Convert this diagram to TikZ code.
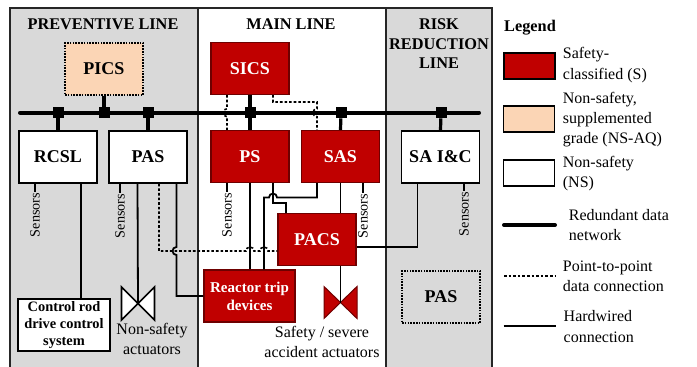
\documentclass[tikz,border=0pt]{standalone}
\usepackage{fontspec}
\setmainfont{Liberation Serif}
\usepackage{xcolor}
\usetikzlibrary{calc}

\definecolor{safetyred}{HTML}{C00000}
\definecolor{darkred}{HTML}{6E0000}
\definecolor{nsaq}{HTML}{FBD5B5}
\definecolor{linegray}{HTML}{D9D9D9}

\tikzset{
  box/.style={draw=black,line width=1.5pt,inner sep=0pt,align=center,minimum width=78pt,minimum height=52pt},
  safebox/.style={box,draw=darkred,line width=1.2pt,fill=safetyred,text=white,font=\fontsize{18}{20}\selectfont\bfseries},
  nsbox/.style={box,fill=white,font=\fontsize{18}{20}\selectfont\bfseries},
  dotbox/.style={box,line width=1.5pt,dash pattern=on 1.6pt off 1.2pt,font=\fontsize{18}{20}\selectfont\bfseries},
  title/.style={align=center,inner sep=0pt,font=\fontsize{16.3}{19.5}\selectfont\bfseries},
  body/.style={align=center,inner sep=0pt,font=\fontsize{16}{20}\selectfont},
  legtext/.style={align=left,anchor=west,inner sep=0pt,font=\fontsize{16}{20.3}\selectfont},
  legbox/.style={draw=black,line width=2pt,inner sep=0pt,minimum width=51pt,minimum height=26pt},
  sens/.style={rotate=90,inner sep=1pt,font=\fontsize{14.2}{16}\selectfont},
  junction/.style={fill=black,inner sep=0pt,minimum size=11pt},
  bus/.style={line width=4pt,line cap=round},
  stub/.style={line width=3.2pt},
  wire/.style={line width=1.8pt},
  ptp/.style={line width=1.6pt,dash pattern=on 2.6pt off 2pt},
  valve/.style={line width=1.6pt,line join=miter}
}

\begin{document}
\begin{tikzpicture}[x=1pt,y=-1pt]
  \useasboundingbox (0,0) rectangle (697,367);

  % Line panels
  \fill[linegray] (10,8) rectangle (198,367);
  \fill[linegray] (386,8) rectangle (492,367);
  \draw[line width=1.5pt,black!85] (10,367) -- (10,8) -- (492,8) -- (492,367);
  \draw[line width=1.5pt,black!85] (198,8) -- (198,367);
  \draw[line width=1.5pt,black!85] (386,8) -- (386,367);

  % Panel titles
  \node[title] (tprev) at (103,24) {PREVENTIVE LINE};
  \node[title] (tmain) at (291,24) {MAIN LINE};
  \node[title] (trisk) at (439,44) {RISK\\REDUCTION\\LINE};

  % Bus
  \coordinate (busl) at (20,112.7);
  \coordinate (busr) at (479,112.7);
  \draw[bus] (busl) -- (busr);

  % Systems
  \node[dotbox,fill=nsaq] (pics) at (104,69) {PICS};
  \node[nsbox] (rcsl) at (58,157) {RCSL};
  \node[nsbox] (pas) at (148,157) {PAS};
  \node[safebox] (sics) at (250,68.5) {SICS};
  \node[safebox] (ps) at (250,156.5) {PS};
  \node[safebox] (sas) at (340.5,156.5) {SAS};
  \node[nsbox] (saic) at (440.5,157) {SA I\&C};
  \node[safebox] (pacs) at (317,239.5) {PACS};
  \node[safebox,minimum width=91pt,font=\fontsize{15}{18}\selectfont\bfseries] (rtd) at (249.5,296) {Reactor trip\\devices};
  \node[nsbox,minimum width=92pt,font=\fontsize{14.4}{17}\selectfont\bfseries] (crd) at (64,325) {Control rod\\drive control\\system};
  \node[dotbox] (pasr) at (441,297) {PAS};

  % Bus junctions
  \node[junction] (j1) at (58,112.7) {};
  \node[junction] (j2) at (104,112.7) {};
  \node[junction] (j3) at (148,112.7) {};
  \node[junction] (j4) at (250,112.7) {};
  \node[junction] (j5) at (341,112.7) {};
  \node[junction] (j6) at (441,112.7) {};

  % Bus stubs
  \draw[stub] (pics.south) -- (j2);
  \draw[stub] (rcsl.north) -- (j1);
  \draw[stub] (pas.north) -- (j3);
  \draw[stub] (sics.south) -- (j4);
  \draw[stub] (ps.north) -- (j4);
  \draw[stub] (sas.north) -- (j5);
  \draw[stub] (saic.north) -- (j6);

  % Sensors
  \node[sens] (s1) at (35,215) {Sensors};
  \node[sens] (s2) at (120,216) {Sensors};
  \node[sens] (s3) at (227,215) {Sensors};
  \node[sens] (s4) at (363,216) {Sensors};
  \node[sens] (s5) at (464,214) {Sensors};
  \draw[wire] ([xshift=-23pt]rcsl.south) -- (s1.east);
  \draw[wire] ([xshift=-28pt]pas.south) -- (s2.east);
  \draw[wire] ([xshift=-23pt]ps.south) -- (s3.east);
  \draw[wire] ([xshift=22.5pt]sas.south) -- (s4.east);
  \draw[wire] ([xshift=23.5pt]saic.south) -- (s5.east);

  % Valves
  \coordinate (vns) at (138,303.5);
  \coordinate (vs) at (340.5,302.5);
  \draw[valve,fill=white] ($(vns)+(-16.5,-16.5)$) -- ($(vns)+(16.5,16.5)$) -- ($(vns)+(16.5,-16.5)$) -- ($(vns)+(-16.5,16.5)$) -- cycle;
  \draw[valve,line width=1pt,draw=darkred,fill=safetyred] ($(vs)+(-16.5,-16)$) -- ($(vs)+(16.5,16)$) -- ($(vs)+(16.5,-16)$) -- ($(vs)+(-16.5,16)$) -- cycle;
  \node[body] (lns) at (152,339) {Non-safety\\actuators};
  \node[body] (ls) at (322,341.5) {Safety / severe\\accident actuators};

  % Hardwired connections
  \draw[wire] ([xshift=23pt]rcsl.south) -- (crd.north -| 81,0);
  \draw[wire] ([xshift=-10.5pt]pas.south) -- (vns);
  \draw[wire] ([xshift=28.5pt]pas.south) -- (176.5,247) arc (90:270:4pt) -- (176.5,296) -- (rtd.west |- 0,296);
  \draw[wire] (ps.south) -- (rtd.north -| ps.south);
  \draw[wire] ([xshift=23pt]ps.south) -- (273,203) -- (286,203) -- (pacs.north -| 286,0);
  \draw[wire] ([xshift=-23.5pt]sas.south) -- (317,197.5) -- (277,197.5) arc (0:180:4pt) -- (264,197.5) -- (rtd.north -| 264,0);
  \draw[wire] (sas.south) -- (pacs.north -| sas.south);
  \draw[wire] (pacs.south -| vs) -- (vs);
  \draw[wire] (pacs.east |- 0,247) -- (417.5,247) -- ([xshift=-23pt]saic.south);

  % Point-to-point connections
  \draw[ptp] ([xshift=-23pt]sics.south) -- (227,108.7) arc (90:270:4pt) -- ([xshift=-23pt]ps.north);
  \draw[ptp] ([xshift=23pt]sics.south) -- (273,102) -- (317,102) -- (317,108.7) arc (90:270:4pt) -- ([xshift=-23.5pt]sas.north);
  \draw[ptp] ([xshift=11pt]pas.south) -- (159,251) -- (246,251) arc (180:0:4pt) -- (260,251) arc (180:0:4pt) -- ([yshift=-11.5pt]pacs.west);

  % Legend
  \node[title,anchor=west] (lt) at (504,28) {Legend};
  \node[legbox,fill=safetyred] (l1) at (529,65.5) {};
  \node[legbox,fill=nsaq,line width=1.6pt] (l2) at (529,118.7) {};
  \node[legbox,fill=white,line width=1.6pt] (l3) at (529,173) {};
  \node[legtext] (t1) at (562.7,65) {Safety-\\classified (S)};
  \node[legtext] (t2) at (562.7,119.5) {Non-safety,\\supplemented\\grade (NS-AQ)};
  \node[legtext] (t3) at (562.7,173.5) {Non-safety\\(NS)};
  \node[legtext] (t4) at (568.7,225) {Redundant data\\network};
  \node[legtext] (t5) at (562.7,276) {Point-to-point\\data connection};
  \node[legtext] (t6) at (563.5,326.5) {Hardwired\\connection};
  \coordinate (k1) at (504,225);
  \coordinate (k2) at (555,276);
  \coordinate (k3) at (503.5,325.7);
  \draw[bus] (k1) -- (k1 -| k2);
  \draw[ptp] (k1 |- k2) -- (k2);
  \draw[wire] (k3) -- (k3 -| 556,0);
\end{tikzpicture}
\end{document}
